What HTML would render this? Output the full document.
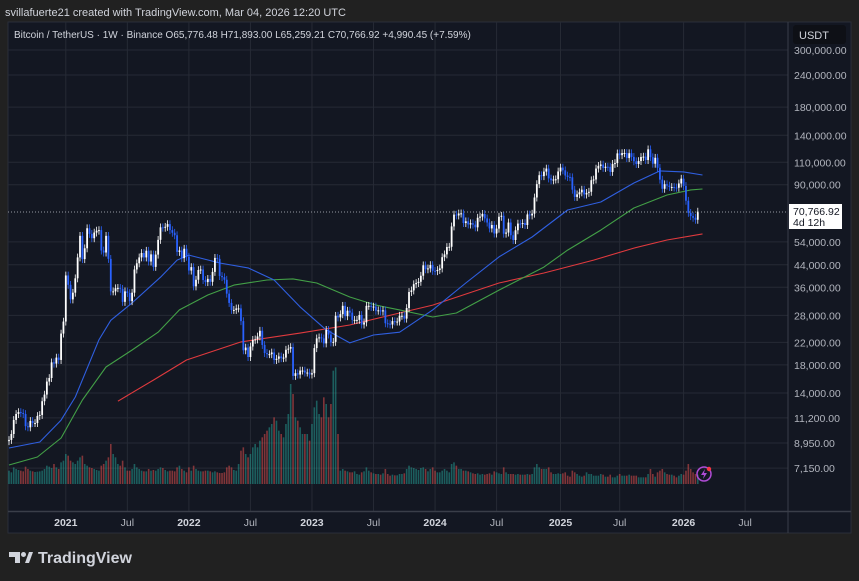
<!DOCTYPE html>
<html><head><meta charset="utf-8"><style>
html,body{margin:0;padding:0;background:#212121;width:859px;height:581px;overflow:hidden}
svg{display:block;font-family:"Liberation Sans",sans-serif}
</style></head><body>
<svg id="chart" width="859" height="581" xmlns="http://www.w3.org/2000/svg">
<rect x="0" y="0" width="859" height="581" fill="#212121"/>
<text x="5" y="16" fill="#d1d4dc" font-size="11">svillafuerte21 created with TradingView.com, Mar 04, 2026 12:20 UTC</text>
<rect x="8" y="22" width="843" height="511" fill="#131722" stroke="#2a2e39"/>
<g id="grid"></g>
<g id="volume"></g>
<g id="mas"></g>
<g id="candles"></g>
<line x1="8" y1="212" x2="788" y2="212" stroke="#9598a1" stroke-width="1" stroke-dasharray="1,2"/>
<line x1="788" y1="22" x2="788" y2="533" stroke="#3a3e49"/>
<line x1="8" y1="511.5" x2="851" y2="511.5" stroke="#3a3e49" stroke-width="1.5"/>
<g id="yaxis"></g>
<g id="xaxis"></g>
<rect x="793" y="25" width="53" height="19" rx="3" fill="#0e1016"/>
<text x="799" y="39" fill="#d1d4dc" font-size="11">USDT</text>
<text x="14" y="38" fill="#d1d4dc" font-size="10">Bitcoin / TetherUS · 1W · Binance  O65,776.48  H71,893.00  L65,259.21  C70,766.92  +4,990.45 (+7.59%)</text>
<rect x="789" y="204" width="53" height="25" fill="#ffffff"/>
<text x="793" y="215" fill="#131722" font-size="10.5">70,766.92</text>
<text x="793" y="226" fill="#131722" font-size="10.5">4d 12h</text>
<g>
<circle cx="704" cy="474" r="7" fill="none" stroke="#b04cd6" stroke-width="1.5"/>
<path d="M705 469 L701 475 L704 475 L703 479 L707 473 L704 473 Z" fill="#b04cd6"/>
<circle cx="709" cy="469" r="2.2" fill="#f23645"/>
</g>
<g>
<path d="M9 552 H20 V563 H15 V557 H9 Z" fill="#d1d4dc"/>
<circle cx="23.5" cy="554.5" r="2.5" fill="#d1d4dc"/>
<path d="M25 563 L29 552 H33 L29 563 Z" fill="#d1d4dc"/>
<text x="38" y="563" fill="#d1d4dc" font-size="16" font-weight="bold">TradingView</text>
</g>
</svg>
<script>
const closes = [
9200,9700,11000, 11600,11800,11700,11600, 10400,10300,10900,10700, 10700,11400,11500,13000,13800, 15500,16000,18400,18200, 19200,18800,23800,26500,
40000,36800,32300,34300, 39000,47000,57000,46300, 51000,61000,58000,55800,58700, 59700,60000,50000,49100, 57000,46400,34700,34700,35700, 35800,35500,31600,34700, 34200,31800,34300,42200, 44600,47000,48900,47000,49900, 45300,48300,43200,48200, 55000,61500,61300,61800, 63300,60000,58600,57300,49400, 50000,46700,50800,47300,
41800,43100,36300,38500, 42000,42200,38400,37700, 38800,37800,41300,46800, 46400,39800,39400,38500, 34000,31300,29400,29400,29800, 29800,26600,20500,21000, 19300,21200,22500,22600, 23200,24400,21500,20000,19800, 19800,20100,18800,19000, 19400,19100,19200,20600,20800, 21100,16300,16700,16500, 17100,17100,16800,16800,16500,
16700,20900,22800,23000, 22800,21800,24600,23600, 22000,22100,27900,27500, 28300,30500,27800,29200,28700, 26900,26900,26900,28100, 25800,26300,30500,30500, 30200,30300,29200,29300, 29000,29300,26100,26000, 25800,26600,26500,26500,27900, 27900,27200,29900,34500, 35000,37000,37400,37800, 39900,43800,42300,42600,
43900,41700,41600,42000,42600, 47100,48300,51600,51700, 62000,68900,68400,69600, 69700,63900,64900,63100,63800, 63000,61500,67000,67700, 69300,66600,64200,60900,62800, 58200,60800,67600,68200, 58100,58700,64200,57300, 54900,59900,63600,63300, 63900,62800,69000,68400,69500, 80300,90500,98000,97200, 101200,104000,95200,93700,94300,
94500,101300,104900,102400, 97700,96500,96200,86100, 80700,82600,84100,86100,82500, 83700,84500,93700,94300, 104000,106500,107800,104600, 105700,105600,100900,108400,109200, 119100,117200,119400,119500, 114200,119300,115400,111000,108300, 111200,115300,115700,112200, 123500,115100,108600,114500, 104700,94200,86800,90400, 89300,88200,88200,87800,87600,
91000,95000,89000,78000, 70000,68000,67000,65800, 70767];
const firstOpen = 9100;
const volumes = [
400,350,500,450,420,400,380,520,450,400,380,360,370,380,400,450,550,520,480,600,500,450,650,700,
900,850,700,650,600,700,800,850,600,550,500,480,450,420,400,550,600,700,800,1200,900,800,600,550,700,500,400,400,450,600,500,450,400,380,380,450,400,420,400,450,500,480,420,380,400,400,380,500,550,450,400,350,
500,400,550,450,400,380,380,400,400,380,350,380,350,330,330,350,500,550,500,420,400,600,1000,1100,900,800,900,1100,1200,1100,1300,1400,1500,1600,1700,1800,2000,1900,1600,1500,1400,1800,2100,3000,2700,2000,1900,1700,1500,1500,1500,1300,
1800,2300,2500,2100,2000,2600,2400,2000,2400,3400,3500,1500,400,450,400,380,350,350,380,300,280,350,380,500,400,350,320,300,300,280,320,450,300,250,280,260,260,300,300,320,450,550,500,480,450,420,480,500,450,380,
450,500,400,350,350,400,450,400,350,600,650,550,450,450,400,400,380,350,320,300,320,280,300,280,300,320,280,380,350,320,300,500,350,300,300,300,280,300,280,280,280,300,280,300,500,600,500,450,450,450,500,350,300,
300,320,300,320,350,250,220,400,350,300,250,220,250,350,300,300,250,250,250,300,280,220,220,280,200,200,250,300,250,250,250,280,250,250,250,200,200,200,200,300,450,300,220,350,400,450,350,300,280,280,250,200,
250,300,280,400,600,450,350,300,280];
const ma50Weeks = [0,13,22,28,38,43,52,64,71,76,89,101,112,123,134,144,154,165,179,193,207,221,236,250,264,275,285,293];
const ma50Values = [8560,9030,10980,13500,22500,26800,31300,39400,45900,48000,44700,42800,38400,30200,24600,21900,23500,24100,29400,37400,47200,56400,71800,77100,91400,101800,100900,98200];
const ma100Weeks = [0,12,22,31,41,52,63,72,84,95,109,120,130,144,155,165,179,189,207,226,236,250,264,278,288,293];
const ma100Values = [7350,7900,9360,13140,17650,20540,24100,29400,33600,36700,38400,38800,37400,33000,30700,29400,27600,28600,35100,43100,50200,60000,73100,82100,85900,86600];
const ma200Weeks = [46,61,75,98,123,144,165,179,207,226,247,264,278,293];
const ma200Values = [13000,15700,18800,22100,23900,25700,28600,30700,37400,40900,45900,51100,54900,58000];
const priceTicks = [300000,240000,180000,140000,110000,90000,54000,44000,36000,28000,22000,18000,14000,11200,8950,7150];
const timeTickWeeks = [24,50,76,102,128,154,180,206,233,258,285,311];
const timeTickLabels = ["2021","Jul","2022","Jul","2023","Jul","2024","Jul","2025","Jul","2026","Jul"];

const NS = "http://www.w3.org/2000/svg";
const xScale = i => 9 + i * 2.367;
const yScale = p => 50 + 111.9 * Math.log(300000 / p);
const vScale = v => v / 30;
const VOL_BASE = 484;
function mk(tag, attrs, parent){const e=document.createElementNS(NS,tag);for(const k in attrs)e.setAttribute(k,attrs[k]);parent.appendChild(e);return e;}

const grid = document.getElementById('grid');
const yaxis = document.getElementById('yaxis');
priceTicks.forEach(p=>{
  const y = yScale(p);
  const l = mk('line',{x1:8,x2:788,y1:y,y2:y,stroke:'#262a35','stroke-width':1},grid);
  
  
  const t = mk('text',{x:794,y:y+4,fill:'#b2b5be','font-size':10.5},yaxis);
  t.textContent = p.toLocaleString('en-US',{minimumFractionDigits:2});
  
  
});
const xaxis = document.getElementById('xaxis');
timeTickWeeks.forEach((w,k)=>{
  const x = xScale(w);
  const l = mk('line',{x1:x,x2:x,y1:22,y2:511,stroke:'#262a35','stroke-width':1},grid);
  
  
  const yr = /^\d/.test(timeTickLabels[k]);
  const t = mk('text',{x:x,y:526,fill:yr?'#d1d4dc':'#b2b5be','font-size':10.5,'font-weight':yr?'bold':'normal','text-anchor':'middle'},xaxis);
  t.textContent = timeTickLabels[k];
  
  
});

const vg = document.getElementById('volume');
const cg = document.getElementById('candles');
closes.forEach((c,i)=>{
  const o = i===0 ? firstOpen : closes[i-1];
  const up = c >= o;
  const x = xScale(i);
  const vh = vScale(volumes[i]);
  const vb = mk('rect',{x:x-0.8,y:VOL_BASE-vh,width:1.6,height:vh,fill:up?'#26a69a':'#ef5350','fill-opacity':0.5},vg);
  
  
  const hi = Math.max(o,c)*1.035, lo = Math.min(o,c)*0.965;
  const col = up ? '#ffffff' : '#2962ff';
  const w = mk('line',{x1:x,x2:x,y1:yScale(hi),y2:yScale(lo),stroke:col,'stroke-width':0.8},cg);
  
  
  const yt = yScale(Math.max(o,c)), yb = yScale(Math.min(o,c));
  const b = mk('rect',{x:x-0.9,y:yt,width:1.8,height:Math.max(1,yb-yt),fill:col},cg);
  
  
});

const mg = document.getElementById('mas');
function drawMA(weeks, vals, color, name){
  const pts = weeks.map((w,k)=>xScale(w).toFixed(1)+','+yScale(vals[k]).toFixed(1)).join(' ');
  const pl = mk('polyline',{points:pts,fill:'none',stroke:color,'stroke-width':1.1,'stroke-linejoin':'round'},mg);
  
  
}
drawMA(ma200Weeks, ma200Values, '#e03a3e', 'ma-200-line');
drawMA(ma100Weeks, ma100Values, '#43a047', 'ma-100-line');
drawMA(ma50Weeks, ma50Values, '#2f5fe0', 'ma-50-line');
</script>
</body></html>
